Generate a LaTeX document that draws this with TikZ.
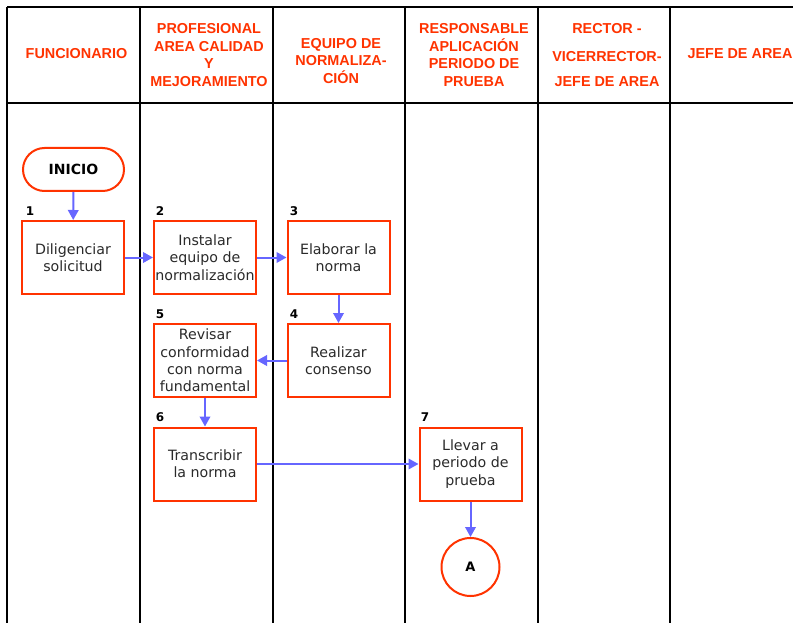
\documentclass[tikz,border=0pt]{standalone}
\usepackage{fontspec}
\setmainfont{DejaVu Sans}
\newfontfamily\headfont{Liberation Sans}
\usetikzlibrary{arrows.meta}
\definecolor{boxred}{HTML}{FF3300}
\definecolor{flowblue}{HTML}{6666FF}
\definecolor{txtgray}{HTML}{2A2A2A}
\begin{document}
\begin{tikzpicture}[x=1pt,y=-1pt,
  lane/.style={line width=2pt,black},
  head/.style={text=boxred,font=\headfont\bfseries\fontsize{14.4}{17.6}\selectfont,align=center,inner sep=0pt},
  stepbox/.style={draw=boxred,line width=2pt,minimum width=102pt,minimum height=73pt,inner sep=1pt,align=center,
    text=txtgray,font=\fontsize{14.2}{17.3}\selectfont},
  terminal/.style={draw=boxred,line width=2pt,minimum width=101pt,minimum height=43pt,rounded corners=21.5pt,
    font=\bfseries\fontsize{14}{17}\selectfont,text=black},
  connector/.style={draw=boxred,line width=2pt,circle,minimum size=58pt,inner sep=0pt,
    font=\bfseries\fontsize{13}{16}\selectfont,text=black},
  num/.style={font=\bfseries\fontsize{12}{14}\selectfont,text=black,inner sep=0pt},
  flow/.style={draw=flowblue,line width=2pt,-{Triangle[length=10pt,width=10.5pt]}}]
\useasboundingbox (0,0) rectangle (793,623);
\fill[white] (0,0) rectangle (793,623);

% swimlane grid
\draw[lane] (7,7) -- (795,7);
\draw[lane] (7,103) -- (795,103);
\foreach \lx in {7,140,273,405,538,670}
  \draw[lane] (\lx,7) -- (\lx,625);

% lane headings
\node[head] (h1) at (76.5,54) {FUNCIONARIO};
\node[head] (h2) at (209,55) {PROFESIONAL\\AREA CALIDAD\\Y\\MEJORAMIENTO};
\node[head] (h3) at (341,61) {EQUIPO DE\\NORMALIZA-\\CIÓN};
\node[head] (h4) at (474,55) {RESPONSABLE\\APLICACIÓN\\PERIODO DE\\PRUEBA};
\node[head] (h5) at (607,55) {RECTOR -\\[10.5pt]VICERRECTOR-\\[6.5pt]JEFE DE AREA};
\node[head] (h6) at (740,54) {JEFE DE AREA};

% process steps
\node[terminal] (inicio) at (73.5,169.5) {INICIO};
\node[stepbox] (s1) at (73,257.5) {Diligenciar\\solicitud};
\node[stepbox] (s2) at (205,257.5) {Instalar\\equipo de\\normalización};
\node[stepbox] (s3) at (338.5,257.5) {Elaborar la\\norma};
\node[stepbox] (s4) at (338.5,360.5) {Realizar\\consenso};
\node[stepbox] (s5) at (205,360.5) {Revisar\\conformidad\\con norma\\fundamental};
\node[stepbox] (s6) at (205,464) {Transcribir\\la norma};
\node[stepbox] (s7) at (470.5,464) {Llevar a\\periodo de\\prueba};
\node[connector] (endA) at (470.5,567) {A};

% step numbers
\node[num] (n1) at (30,211) {1};
\node[num] (n2) at (160,211) {2};
\node[num] (n3) at (294,211) {3};
\node[num] (n4) at (294,314) {4};
\node[num] (n5) at (160,314) {5};
\node[num] (n6) at (160,417) {6};
\node[num] (n7) at (425,417) {7};

% flow
\draw[flow] (inicio) -- (s1);
\draw[flow] (s1) -- (s2);
\draw[flow] (s2) -- (s3);
\draw[flow] (s3) -- (s4);
\draw[flow] (s4) -- (s5);
\draw[flow] (s5) -- (s6);
\draw[flow] (s6) -- (s7);
\draw[flow] (s7) -- (endA);
\end{tikzpicture}
\end{document}
